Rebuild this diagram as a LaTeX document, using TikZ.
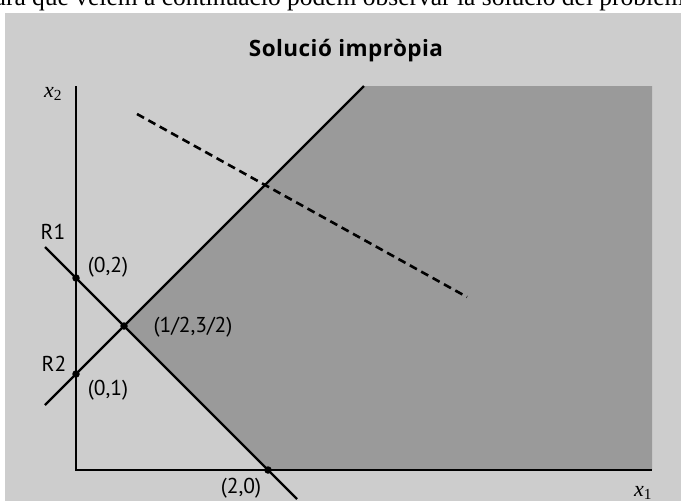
\documentclass[tikz,border=0pt]{standalone}
\usepackage{fontspec}
\setmainfont{Liberation Serif}
\setsansfont{PT Sans}
\newfontfamily\titlefont[LetterSpace=2]{Open Sans}
\definecolor{bglight}{HTML}{CDCDCD}
\definecolor{regdark}{HTML}{9A9A9A}
\begin{document}
\begin{tikzpicture}[x=1pt,y=-1pt,
  lab/.style={font=\fontsize{21.5}{24}\selectfont\sffamily, inner sep=0pt},
  mathlab/.style={font=\fontsize{22}{24}\selectfont\itshape, inner sep=0pt},
  ttl/.style={font=\fontsize{22.5}{26}\selectfont\titlefont\bfseries, inner sep=0pt},
  bodytext/.style={font=\fontsize{25.5}{28}\selectfont, inner sep=0pt, anchor=base west},
  cline/.style={line width=2.2pt},
  axline/.style={line width=1.5pt},
  objline/.style={line width=2.6pt, dash pattern=on 8pt off 5pt},
  pt/.style={circle, fill=black, inner sep=0pt, minimum size=7.5pt}]
\useasboundingbox (0,0) rectangle (681,501);
\begin{scope}
\clip (0,0) rectangle (681,501);
\fill[white] (0,0) rectangle (681,501);
\node[bodytext] (body) at (32,5) {\llap{figura }que veiem a continuació podem observar la solució del problema};
\fill[bglight] (5,13) rectangle (681,501);

% coordinates
\coordinate (O) at (76,470);
\coordinate (ytop) at (76,86);
\coordinate (xend) at (652,470);
\coordinate (r1a) at (45,247);
\coordinate (r1b) at (297,499);
\coordinate (r2a) at (45,405);
\coordinate (r2b) at (364,86);
\coordinate (tr) at (652,86);
\coordinate (oba) at (137,114);
\coordinate (obb) at (467,297);

% feasible region
\fill[regdark] (268,470) -- (124,326) -- (r2b) -- (tr) -- (xend) -- cycle;

% axes
\draw[axline] (ytop) -- (O) -- (xend);

% constraint lines
\draw[cline] (r1a) -- (r1b);
\draw[cline] (r2a) -- (r2b);

% objective
\draw[objline] (oba) -- (obb);

% points
\node[pt] (p02) at (76,278) {};
\node[pt] (p01) at (76,374) {};
\node[pt] (pc) at (124,326) {};
\node[pt] (p20) at (268,470) {};

% labels
\node[ttl] (title) at (346,51) {Solució impròpia};
\node[mathlab] (lx2) at (53,94) {x\textsubscript{\upshape 2}};
\node[mathlab] (lx1) at (643,493) {x\textsubscript{\upshape 1}};
\node[lab] (lr1) at (53,232) {R1};
\node[lab] (lr2) at (54,364) {R2};
\node[lab] (l02) at (108,267) {(0,2)};
\node[lab] (l01) at (108,390) {(0,1)};
\node[lab] (lc) at (193,327) {(1/2,3/2)};
\node[lab] (l20) at (241,488) {(2,0)};
\end{scope}
\end{tikzpicture}
\end{document}
